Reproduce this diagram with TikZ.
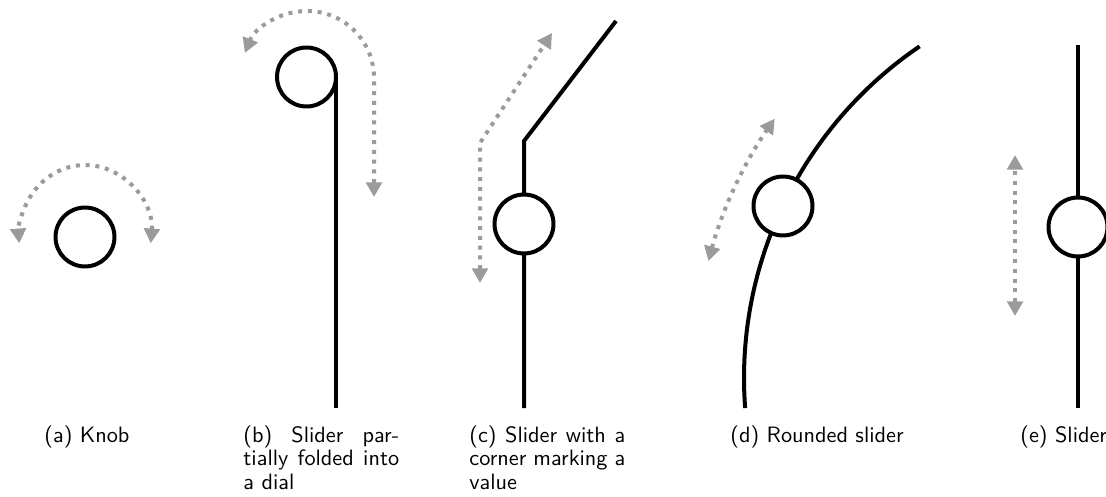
\documentclass[tikz,border=0pt]{standalone}
\usepackage{tikz}
\usetikzlibrary{arrows.meta,calc}
\definecolor{dotgray}{RGB}{155,155,155}

\begin{document}
\begin{tikzpicture}[x=0.4494pt, y=0.4494pt,
        knob/.style={draw, circle, line width=1.8pt, minimum size=26.5pt, inner sep=0pt, outer sep=0pt},
        track/.style={line width=1.8pt},
        dotarr/.style={{Triangle[length=6.6pt,width=7pt]}-{Triangle[length=6.6pt,width=7pt]},
                       dotgray, line width=1.8pt, dash pattern=on 1.8pt off 2.6pt},
        subcap/.style={anchor=north west, inner sep=0pt, font=\sffamily\fontsize{10}{10.7}\selectfont},
        widecap/.style={subcap, align=justify, text width=70pt}
    ]
    \useasboundingbox (0,0) rectangle (1106,-496);

    % (a) knob
    \node[knob] (knobA) at (85,-237) {};
    \draw[dotarr] (knobA) ++(-5:66 and 72) arc[start angle=-5, end angle=185, x radius=66, y radius=72];

    % (b) slider folded into a dial
    \node[knob] (dialB) at (306.5,-77) {};
    \coordinate (endB) at (dialB.east |- 0,-408);
    \draw[track] (dialB.east) -- (endB);
    \draw[dotarr] (374,-197) -- (374,-78) arc[start angle=0, end angle=158, radius=67];

    % (c) slider with a corner
    \node[knob] (sliderC) at (524,-224) {};
    \coordinate (endC) at (524,-408);
    \coordinate (cornerC) at (524,-141);
    \coordinate (topC) at (616,-21);
    \draw[track] (endC) -- (sliderC) -- (cornerC) -- (topC);
    \draw[dotarr] (480,-283) -- (480,-143) -- (552,-33);

    % (d) rounded slider
    \draw[track] (1145,-378) ++(184.3:401) arc[start angle=184.3, end angle=124.2, radius=401];
    \node[knob, fill=white] (sliderD) at (783,-206) {};
    \draw[dotarr] (1145,-378) ++(165:452) arc[start angle=165, end angle=145, radius=452];

    % (e) slider
    \node[knob] (sliderE) at (1078,-227) {};
    \coordinate (endE) at (1078,-408);
    \coordinate (topE) at (1078,-45);
    \draw[track] (endE) -- (sliderE) -- (topE);
    \draw[dotarr] (1015,-316) -- (1015,-155);

    % captions
    \node[subcap]  (capA) at (44,-425)   {(a) Knob};
    \node[widecap] (capB) at (243,-425)  {(b) Slider par-\linebreak tially folded into\linebreak a dial};
    \node[widecap] (capC) at (469,-425)  {(c) Slider with a\linebreak corner marking a\linebreak value};
    \node[subcap]  (capD) at (730,-425)  {(d) Rounded slider};
    \node[subcap]  (capE) at (1020,-425) {(e) Slider};
\end{tikzpicture}
\end{document}
